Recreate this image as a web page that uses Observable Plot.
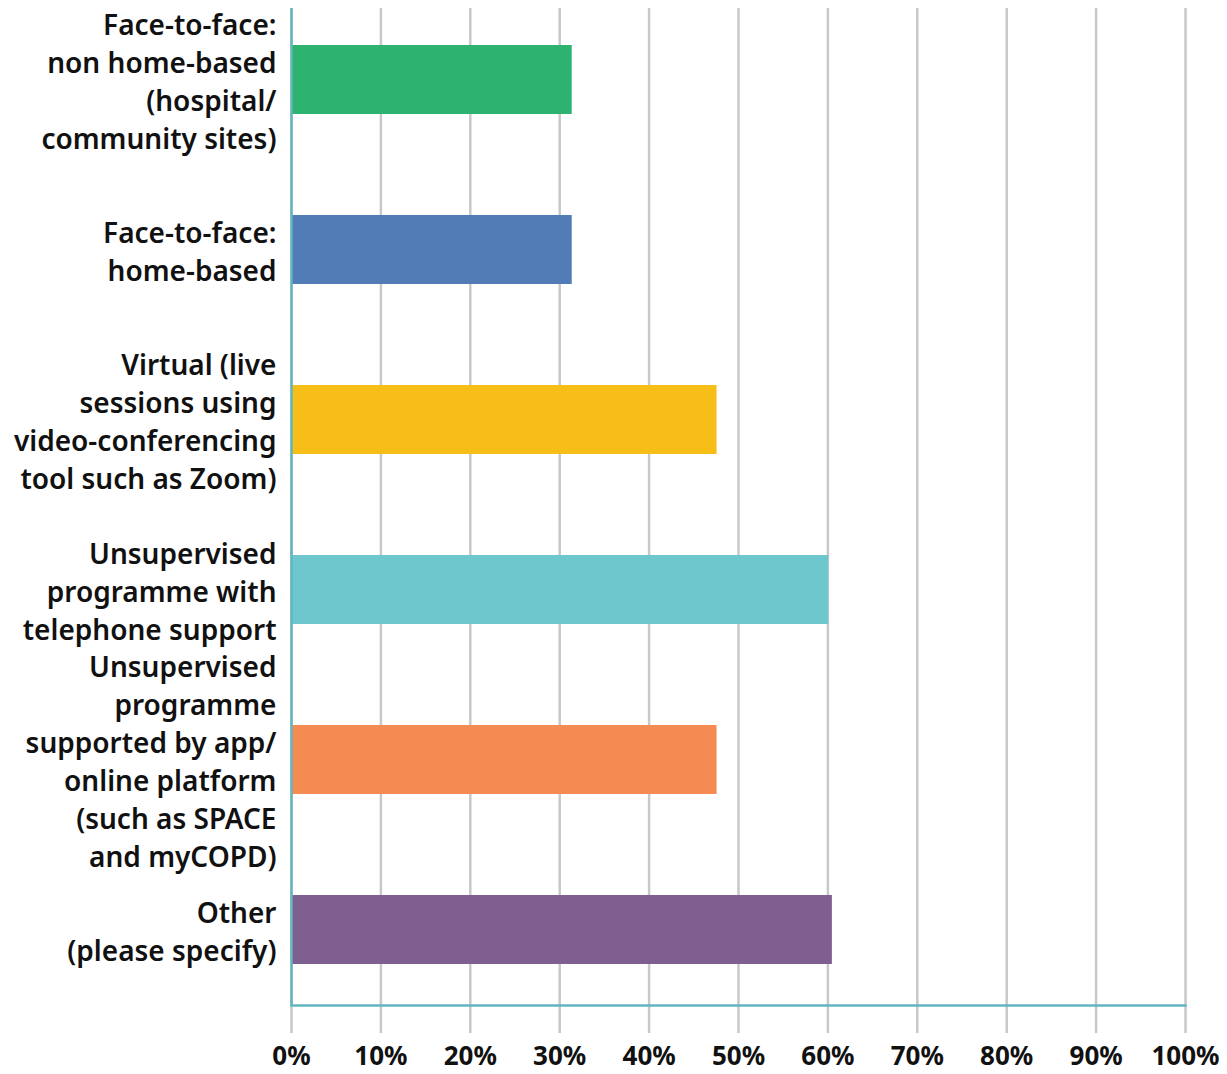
<!DOCTYPE html>
<html>
<head>
<meta charset="utf-8">
<script src="https://cdn.jsdelivr.net/npm/d3@7"></script>
<script src="https://cdn.jsdelivr.net/npm/@observablehq/plot@0.6"></script>
<style>
  html, body { margin: 0; padding: 0; background: #fff; }
  #chart svg { font-family: "Noto Sans", sans-serif; }
  #chart g[aria-label="x-axis tick"] path { stroke: #c8c8c8; stroke-width: 2.5; stroke-opacity: 1; }
</style>
</head>
<body>
<div id="chart"></div>
<script>
const categories = [
  "Face-to-face: non home-based (hospital/ community sites)",
  "Face-to-face: home-based",
  "Virtual (live sessions using video-conferencing tool such as Zoom)",
  "Unsupervised programme with telephone support",
  "Unsupervised programme supported by app/ online platform (such as SPACE and myCOPD)",
  "Other (please specify)"
];
const labelLines = [
  "Face-to-face:\nnon home-based\n(hospital/\ncommunity sites)",
  "Face-to-face:\nhome-based",
  "Virtual (live\nsessions using\nvideo-conferencing\ntool such as Zoom)",
  "Unsupervised\nprogramme with\ntelephone support",
  "Unsupervised\nprogramme\nsupported by app/\nonline platform\n(such as SPACE\nand myCOPD)",
  "Other\n(please specify)"
];
const values = [31.4, 31.4, 47.6, 60.1, 47.6, 60.5];
const colors = ["#2db36f", "#527cb6", "#f6be16", "#6dc7cc", "#f58a53", "#7e5f8f"];
const xTicks = [0, 10, 20, 30, 40, 50, 60, 70, 80, 90, 100];

const data = categories.map((c, i) => ({category: c, value: values[i]}));
const labelOf = new Map(categories.map((c, i) => [c, labelLines[i]]));
const teal = "#62b6bf";

const chart = Plot.plot({
  width: 1227,
  height: 1074,
  marginLeft: 291,
  marginRight: 42,
  marginTop: 8,
  marginBottom: 69,
  x: {domain: [0, 100], ticks: xTicks, axis: null, label: null},
  y: {type: "band", domain: categories, range: [-7.4, 1016.8], paddingInner: 0.596, paddingOuter: 0.298, axis: null, label: null},
  color: {domain: categories, range: colors},
  marks: [
    Plot.gridX(xTicks, {stroke: "#c8c8c8", strokeWidth: 2.5, strokeOpacity: 1}),
    Plot.axisX(xTicks, {
      label: null,
      tickSize: 28, tickPadding: 13,
      tickFormat: d => d + "%",
      fontSize: 26, fontWeight: 700, fill: "#111"
    }),
    Plot.barX(data, {y: "category", x: "value", fill: "category"}),
    Plot.axisY({
      label: null,
      tickSize: 0, tickPadding: 15,
      tickFormat: d => labelOf.get(d),
      fontSize: 28, fontWeight: 600, lineHeight: 1.36, fill: "#111"
    }),
    Plot.ruleX([0], {stroke: teal, strokeWidth: 2.5}),
    Plot.frame({anchor: "bottom", stroke: teal, strokeWidth: 2.5})
  ]
});
document.getElementById("chart").appendChild(chart);
</script>
</body>
</html>
